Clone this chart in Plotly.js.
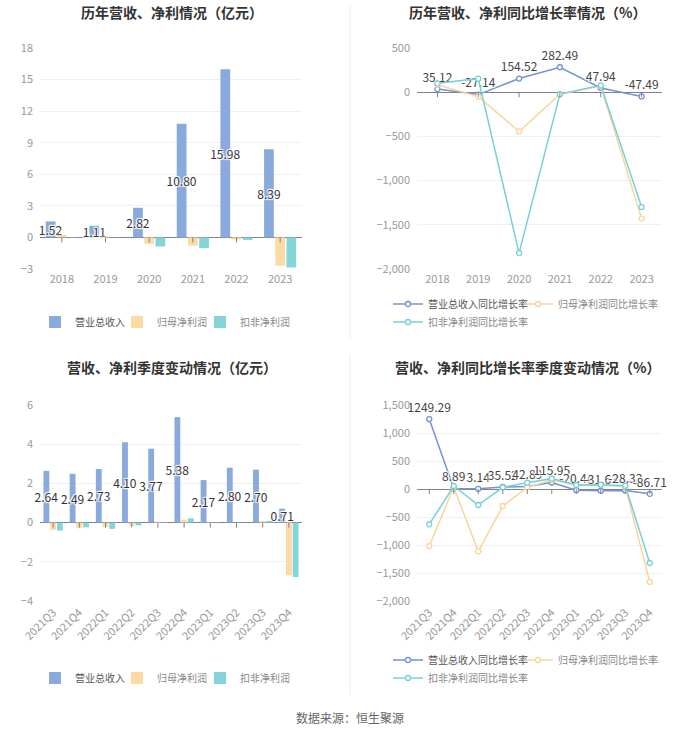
<!DOCTYPE html>
<html><head><meta charset="utf-8">
<script src="https://cdn.plot.ly/plotly-3.0.1.min.js"></script>
<style>html,body{margin:0;padding:0;background:#fff}#chart{width:700px;height:734px}</style>
</head><body><div id="chart"></div>
<script>
// ---------- data ----------
const years = ['2018','2019','2020','2021','2022','2023'];
const annualRevenue = [1.52, 1.11, 2.82, 10.80, 15.98, 8.39];
const annualNetProfit = [0.25, 0.08, -0.60, -0.78, -0.20, -2.68];
const annualDeductedProfit = [0.03, 0.02, -0.86, -1.02, -0.24, -2.85];
const annualRevenueGrowth = [35.12, -27.14, 154.52, 282.49, 47.94, -47.49];
const annualNetProfitGrowth = [85, -50, -444, -22, 70, -1430];
const annualDeductedGrowth = [100, 153, -1821, -22, 78, -1299];

const quarters = ['2021Q3','2021Q4','2022Q1','2022Q2','2022Q3','2022Q4','2023Q1','2023Q2','2023Q3','2023Q4'];
const quarterRevenue = [2.64, 2.49, 2.73, 4.10, 3.77, 5.38, 2.17, 2.80, 2.70, 0.71];
const quarterNetProfit = [-0.37, -0.29, -0.24, -0.17, 0.05, 0.15, -0.02, 0.01, 0.08, -2.69];
const quarterDeductedProfit = [-0.41, -0.24, -0.32, -0.14, 0.04, 0.22, -0.03, 0.01, 0.09, -2.78];
const quarterRevenueGrowth = [1249.29, 8.89, 3.14, 35.52, 42.89, 115.95, -20.44, -31.63, -28.33, -86.71];
const quarterNetProfitGrowth = [-1018, 30, -1113, -304, 30, 160, 70, 70, 42, -1660];
const quarterDeductedGrowth = [-631, 54, -286, 30, 113, 185, 71, 77, 60, -1321];

const barNames = ['营业总收入', '归母净利润', '扣非净利润'];
const lineNames = ['营业总收入同比增长率', '归母净利润同比增长率', '扣非净利润同比增长率'];
const titles = ['历年营收、净利情况（亿元）', '历年营收、净利同比增长率情况（%）', '营收、净利季度变动情况（亿元）', '营收、净利同比增长率季度变动情况（%）'];
const sourceText = '数据来源：恒生聚源';

// ---------- style ----------
const FONT = '"Noto Sans CJK SC", "Microsoft YaHei", sans-serif';
const barColors = ['#8aa9dc', '#fdd9a3', '#84d5d7'];
const lineColors = ['#7394d0', '#fbd49b', '#76d0da'];
const halo = '1px 1px 1px #fff, -1px -1px 1px #fff, 1px -1px 1px #fff, -1px 1px 1px #fff, 0 0 2px #fff';
const fmt = v => v.toFixed(2);

function bars(x, ys, xa, ya, legends) {
  return ys.map((y, i) => ({
    type: 'bar', x: x, y: y, name: barNames[i], xaxis: xa, yaxis: ya, legend: legends[i],
    marker: {color: barColors[i]},
    text: i === 0 ? y.map(fmt) : undefined,
    textposition: i === 0 ? 'inside' : 'none',
    insidetextanchor: 'middle', textangle: 0, constraintext: 'none',
    insidetextfont: {family: FONT, size: 12, color: '#333', shadow: halo},
    cliponaxis: false, hoverinfo: 'skip'
  }));
}
function lines(x, ys, xa, ya, legends) {
  return ys.map((y, i) => ({
    type: 'scatter', mode: i === 0 ? 'lines+markers+text' : 'lines+markers',
    x: x, y: y, name: lineNames[i], xaxis: xa, yaxis: ya, legend: legends[i],
    line: {color: lineColors[i], width: 1.5},
    marker: {symbol: 'circle', size: 5, color: '#fff', line: {color: lineColors[i], width: 1.3}},
    text: i === 0 ? y.map(fmt) : undefined, textposition: 'top center',
    textfont: {family: FONT, size: 12, color: '#444', shadow: halo},
    cliponaxis: false, hoverinfo: 'skip'
  }));
}

const data = [].concat(
  bars(years, [annualRevenue, annualNetProfit, annualDeductedProfit], 'x', 'y', ['legend','legend2','legend3']),
  lines(years, [annualRevenueGrowth, annualNetProfitGrowth, annualDeductedGrowth], 'x2', 'y2', ['legend4','legend5','legend6']),
  bars(quarters, [quarterRevenue, quarterNetProfit, quarterDeductedProfit], 'x3', 'y3', ['legend7','legend8','legend9']),
  lines(quarters, [quarterRevenueGrowth, quarterNetProfitGrowth, quarterDeductedGrowth], 'x4', 'y4', ['legend10','legend11','legend12'])
);

const W = 700, H = 734;
const px = v => v / W, py = v => 1 - v / H;

function xAxis(domain, anchor, angle, n) {
  return {domain: domain, anchor: anchor, type: 'category', range: [-0.5, n - 0.5], showgrid: false, zeroline: false,
    showline: false, ticks: '', tickangle: angle, fixedrange: true,
    tickfont: {family: FONT, size: 11, color: '#999'}, ticklabelstandoff: 2};
}
function yAxis(domain, anchor, range, dtick) {
  return {domain: domain, anchor: anchor, range: range, dtick: dtick, tickformat: ',',
    showgrid: true, gridcolor: '#eef0f4', gridwidth: 1, zeroline: true, zerolinecolor: '#7d828c', zerolinewidth: 1,
    showline: false, ticks: '', fixedrange: true, ticklabelstandoff: 6,
    tickfont: {family: FONT, size: 11, color: '#999'}};
}
const xL = [px(40), px(302)], xR = [px(417), px(662)];
const yT = [py(269), py(48)], yB = [py(601), py(405)];

const legendAt = (x, y, color) => ({orientation: 'h', x: px(x), y: py(y), xanchor: 'left', yanchor: 'middle',
  font: {family: FONT, size: 10, color: color || '#888'}, bgcolor: 'rgba(0,0,0,0)', itemwidth: 30,
  itemclick: false, itemdoubleclick: false});

const shapes = [
  {type: 'line', xref: 'paper', yref: 'paper', x0: 0.5, x1: 0.5, y0: py(5), y1: py(340), line: {color: '#eeeeee', width: 1}},
  {type: 'line', xref: 'paper', yref: 'paper', x0: 0.5, x1: 0.5, y0: py(355), y1: py(695), line: {color: '#eeeeee', width: 1}}
];
[['x','y',years],['x2','y2',years],['x3','y3',quarters],['x4','y4',quarters]].forEach(([xa, ya, cats]) => {
  cats.forEach((c, i) => shapes.push({type: 'line', xref: xa, yref: ya, x0: i, x1: i,
    ysizemode: 'pixel', yanchor: 0, y0: 0, y1: -5, line: {color: '#7d828c', width: 1}}));
});

const annotations = titles.map((t, i) => ({
  text: '<b>' + t + '</b>', xref: 'paper', yref: 'paper', showarrow: false,
  x: i % 2 === 0 ? px(172) : px(527), y: i < 2 ? py(12) : py(367), xanchor: 'center', yanchor: 'middle',
  font: {family: FONT, size: 14, color: '#333'}
}));
annotations.push({text: sourceText, xref: 'paper', yref: 'paper', showarrow: false, x: 0.5, y: py(717),
  xanchor: 'center', yanchor: 'middle', font: {family: FONT, size: 12, color: '#666'}});

const layout = {
  width: W, height: H, margin: {l: 0, r: 0, t: 0, b: 0},
  paper_bgcolor: '#fff', plot_bgcolor: '#fff',
  font: {family: FONT}, barmode: 'group', bargap: 0.23, bargroupgap: 0.13,
  showlegend: true, hovermode: false,
  xaxis: xAxis(xL, 'y', 0, years.length), yaxis: yAxis(yT, 'x', [-3, 18], 3),
  xaxis2: xAxis(xR, 'y2', 0, years.length), yaxis2: yAxis(yT, 'x2', [-2000, 500], 500),
  xaxis3: xAxis(xL, 'y3', -45, quarters.length), yaxis3: yAxis(yB, 'x3', [-4, 6], 2),
  xaxis4: xAxis(xR, 'y4', -45, quarters.length), yaxis4: yAxis(yB, 'x4', [-2000, 1500], 500),
  legend: legendAt(35, 322, '#555'), legend2: legendAt(117, 322), legend3: legendAt(200, 322),
  legend4: legendAt(388, 304, '#555'), legend5: legendAt(518, 304), legend6: legendAt(388, 322),
  legend7: legendAt(35, 678, '#555'), legend8: legendAt(117, 678), legend9: legendAt(200, 678),
  legend10: legendAt(388, 660, '#555'), legend11: legendAt(518, 660), legend12: legendAt(388, 678),
  shapes: shapes, annotations: annotations
};

Plotly.newPlot('chart', data, layout, {displayModeBar: false, staticPlot: true});
</script>
</body></html>
